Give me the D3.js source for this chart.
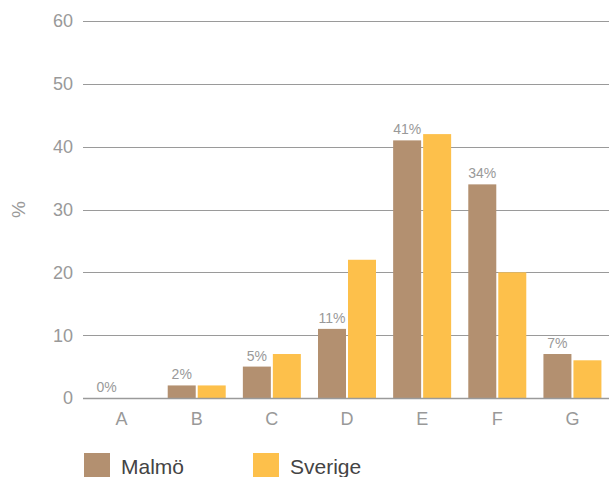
<!DOCTYPE html>
<html>
<head>
<meta charset="utf-8">
<script src="https://cdn.jsdelivr.net/npm/d3@7"></script>
<style>
  html, body { margin: 0; padding: 0; background: #fff; }
  svg { display: block; font-family: "Helvetica Neue", Arial, "Liberation Sans", sans-serif; }
</style>
</head>
<body>
<svg id="chart" width="609" height="477"></svg>
<script>
// Grade distribution, Malmö vs Sverige (%)
const categories = ["A", "B", "C", "D", "E", "F", "G"];
const malmo = [0, 2, 5, 11, 41, 34, 7];
const sverige = [0, 2, 7, 22, 42, 20, 6];
const seriesNames = ["Malmö", "Sverige"];
const yTicks = [0, 10, 20, 30, 40, 50, 60];

const colors = ["#b39070", "#fdc04b"];
const svg = d3.select("#chart");

const plotLeft = 83, plotRight = 609, plotTop = 21, plotBottom = 398;

const x = d3.scaleBand().domain(categories).range([plotLeft + 1, plotRight + 1]).padding(0);
const y = d3.scaleLinear().domain([0, 60]).range([plotBottom, plotTop]);

const barW = 28, gap = 2;

// gridlines
svg.append("g").selectAll("line").data(yTicks).join("line")
  .attr("x1", plotLeft).attr("x2", plotRight)
  .attr("y1", d => Math.round(y(d)) + 0.5).attr("y2", d => Math.round(y(d)) + 0.5)
  .attr("stroke", "#9a9a9a").attr("stroke-width", 1);

// y tick labels
svg.append("g").selectAll("text").data(yTicks).join("text")
  .attr("x", 73).attr("y", d => y(d))
  .attr("dy", "0.36em")
  .attr("text-anchor", "end")
  .attr("fill", "#999")
  .style("font-size", "18px")
  .text(d => d);

// y axis title
svg.append("text")
  .attr("transform", `translate(25,${(plotTop + plotBottom) / 2}) rotate(-90)`)
  .attr("text-anchor", "middle")
  .attr("fill", "#999")
  .style("font-size", "19px")
  .text("%");

const rows = categories.map((c, i) => ({ c, vals: [malmo[i], sverige[i]] }));

// bars
const groups = svg.append("g").selectAll("g").data(rows).join("g");
groups.selectAll("rect").data(d => d.vals.map((v, k) => ({ c: d.c, v, k }))).join("rect")
  .attr("x", d => x(d.c) + x.bandwidth() / 2 - barW - gap / 2 + d.k * (barW + gap))
  .attr("width", barW)
  .attr("y", d => y(d.v))
  .attr("height", d => y(0) - y(d.v))
  .attr("fill", d => colors[d.k]);

// value labels above Malmö bars
svg.append("g").selectAll("text").data(rows).join("text")
  .attr("x", d => x(d.c) + x.bandwidth() / 2 - gap / 2 - barW / 2)
  .attr("y", d => y(d.vals[0]) - 6)
  .attr("text-anchor", "middle")
  .attr("fill", "#999")
  .style("font-size", "14px")
  .text(d => d.vals[0] + "%");

// baseline
svg.append("line")
  .attr("x1", plotLeft).attr("x2", plotRight)
  .attr("y1", y(0) + 0.5).attr("y2", y(0) + 0.5)
  .attr("stroke", "#9a9a9a").attr("stroke-width", 1.5);

// x category labels
svg.append("g").selectAll("text").data(categories).join("text")
  .attr("x", d => x(d) + x.bandwidth() / 2)
  .attr("y", 425)
  .attr("text-anchor", "middle")
  .attr("fill", "#999")
  .style("font-size", "18px")
  .text(d => d);

// legend
const legendX = [84, 253];
const lg = svg.append("g").selectAll("g").data(seriesNames).join("g")
  .attr("transform", (d, i) => `translate(${legendX[i]},453)`);
lg.append("rect").attr("width", 26).attr("height", 24).attr("fill", (d, i) => colors[i]);
lg.append("text").attr("x", 37).attr("y", 21)
  .attr("fill", "#444").style("font-size", "21px").text(d => d);
</script>
</body>
</html>
